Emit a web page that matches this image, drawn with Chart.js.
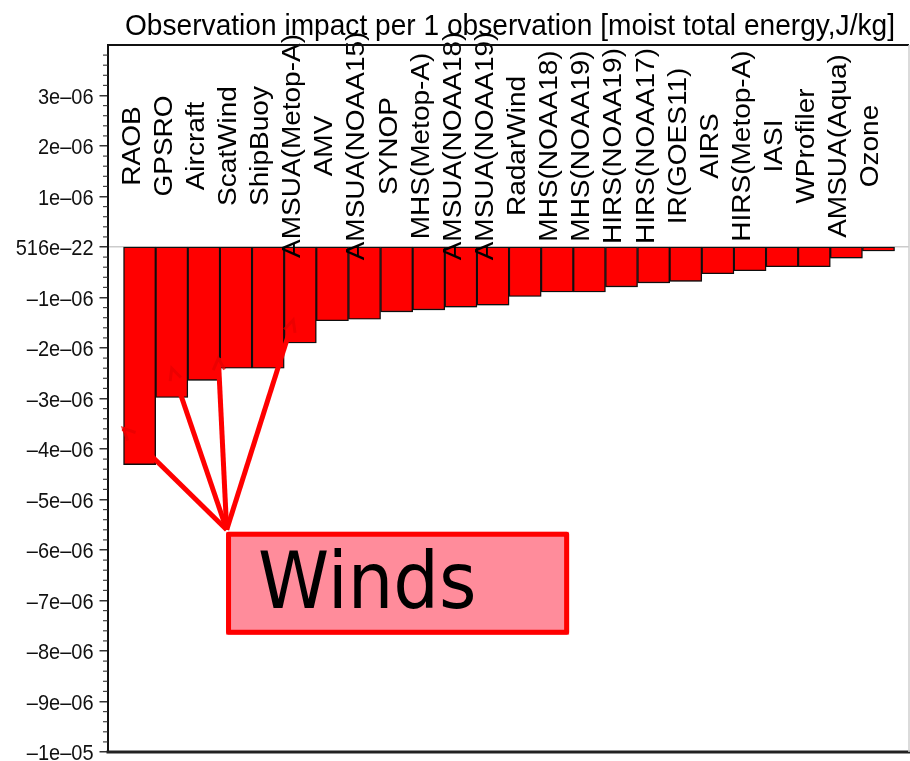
<!DOCTYPE html>
<html>
<head>
<meta charset="utf-8">
<script src="https://cdn.jsdelivr.net/npm/chart.js@4.4.1/dist/chart.umd.min.js"></script>
<style>
  html, body { margin: 0; padding: 0; background: #ffffff; }
  #wrap { width: 910px; height: 761px; position: relative; }
</style>
</head>
<body>
<div id="wrap"><canvas id="chart" width="910" height="761"></canvas></div>
<script>
// Observation types, ordered by impact
const categories = [
  'RAOB', 'GPSRO', 'Aircraft', 'ScatWind', 'ShipBuoy', 'AMSUA(Metop-A)', 'AMV',
  'AMSUA(NOAA15)', 'SYNOP', 'MHS(Metop-A)', 'AMSUA(NOAA18)', 'AMSUA(NOAA19)',
  'RadarWind', 'MHS(NOAA18)', 'MHS(NOAA19)', 'HIRS(NOAA19)', 'HIRS(NOAA17)',
  'IR(GOES11)', 'AIRS', 'HIRS(Metop-A)', 'IASI', 'WProfiler', 'AMSUA(Aqua)', 'Ozone'
];

// Impact per single observation (J/kg, moist total energy)
const impactPerObs = [
  -4.31e-6, -2.98e-6, -2.64e-6, -2.40e-6, -2.40e-6, -1.90e-6, -1.46e-6,
  -1.43e-6, -1.285e-6, -1.245e-6, -1.19e-6, -1.15e-6,
  -0.98e-6, -0.89e-6, -0.89e-6, -0.79e-6, -0.71e-6,
  -0.68e-6, -0.53e-6, -0.47e-6, -0.39e-6, -0.39e-6, -0.22e-6, -0.08e-6
];

// Y tick labels, bottom (-1e-05) to top (4e-06)
const yTickLabels = [
  '\u20131e\u201305', '\u20139e\u201306', '\u20138e\u201306', '\u20137e\u201306', '\u20136e\u201306',
  '\u20135e\u201306', '\u20134e\u201306', '\u20133e\u201306', '\u20132e\u201306', '\u20131e\u201306',
  '516e\u201322', '1e\u201306', '2e\u201306', '3e\u201306', ''
];

const titleText = 'Observation impact per 1 observation [moist total energy,J/kg]';
const calloutText = 'Winds';

// Callout geometry in data units (x: category position, y: impact value)
const callout = {
  hub: [3.71, -5.60e-6],
  targets: [[0.49, -3.59e-6], [2.0, -2.40e-6], [3.45, -2.20e-6], [5.78, -1.445e-6]],
  box: { x0: 3.69, y0: -5.64e-6, x1: 14.37, y1: -7.68e-6 }
};

const barPoints = impactPerObs.map((v, i) => ({ x: i + 1, y: v }));

const decorPlugin = {
  id: 'decor',
  beforeDatasetsDraw(chart) {
    const ctx = chart.ctx;
    ctx.save();
    ctx.shadowColor = 'rgba(0,0,0,0.28)';
    ctx.shadowBlur = 3;
    ctx.shadowOffsetY = 1;
  },
  afterDatasetsDraw(chart) {
    const ctx = chart.ctx;
    ctx.restore();
    const xs = chart.scales.x, ys = chart.scales.y, area = chart.chartArea;

    // minor ticks on the value axis
    ctx.save();
    ctx.strokeStyle = '#444';
    ctx.lineWidth = 1.2;
    for (let k = -50; k <= 20; k++) {
      if (k % 5 === 0) continue;
      const py = ys.getPixelForValue(k * 2e-7);
      ctx.beginPath();
      ctx.moveTo(area.left - 4.5, py);
      ctx.lineTo(area.left, py);
      ctx.stroke();
    }
    // value-axis labels
    ctx.fillStyle = '#111';
    ctx.font = '20px "Liberation Sans", Arial, sans-serif';
    ctx.textAlign = 'right';
    ctx.textBaseline = 'middle';
    ys.ticks.forEach((t, i) => {
      const py = ys.getPixelForValue(t.value);
      ctx.save();
      ctx.translate(area.left - 14, py + 2);
      ctx.scale(1, 1.12);
      ctx.fillText(yTickLabels[i] || '', 0, 0);
      ctx.restore();
    });
    ctx.restore();

    // rotated category names above the zero line
    ctx.save();
    ctx.fillStyle = '#000';
    ctx.font = '25px "Liberation Sans", Arial, sans-serif';
    ctx.textAlign = 'center';
    ctx.textBaseline = 'alphabetic';
    const yc = ys.getPixelForValue(2e-6);
    categories.forEach((name, i) => {
      const px = xs.getPixelForValue(i + 1);
      ctx.save();
      ctx.translate(px, yc);
      ctx.rotate(-Math.PI / 2);
      ctx.scale(1.12, 1);
      ctx.fillText(name, 0, 0);
      ctx.restore();
    });
    ctx.restore();

    // callout lines, arrow tips and label box
    const hx = xs.getPixelForValue(callout.hub[0]);
    const hy = ys.getPixelForValue(callout.hub[1]);
    ctx.save();
    ctx.strokeStyle = '#ff0000';
    ctx.lineWidth = 5;
    ctx.lineCap = 'butt';
    callout.targets.forEach(([tx, ty]) => {
      const px = xs.getPixelForValue(tx), py = ys.getPixelForValue(ty);
      ctx.beginPath();
      ctx.moveTo(hx, hy);
      ctx.lineTo(px, py);
      ctx.stroke();
      // open arrow tip
      const ang = Math.atan2(py - hy, px - hx);
      ctx.save();
      ctx.strokeStyle = 'rgba(230,0,0,0.75)';
      ctx.lineWidth = 3;
      ctx.beginPath();
      ctx.moveTo(px - 13 * Math.cos(ang - 0.45), py - 13 * Math.sin(ang - 0.45));
      ctx.lineTo(px, py);
      ctx.lineTo(px - 13 * Math.cos(ang + 0.45), py - 13 * Math.sin(ang + 0.45));
      ctx.stroke();
      ctx.restore();
    });
    const bx0 = xs.getPixelForValue(callout.box.x0), bx1 = xs.getPixelForValue(callout.box.x1);
    const by0 = ys.getPixelForValue(callout.box.y0), by1 = ys.getPixelForValue(callout.box.y1);
    ctx.fillStyle = '#ff8c9b';
    ctx.fillRect(bx0, by0, bx1 - bx0, by1 - by0);
    ctx.lineWidth = 5;
    ctx.strokeStyle = '#ff0000';
    ctx.lineJoin = 'round';
    ctx.strokeRect(bx0 + 2.5, by0 + 2.5, bx1 - bx0 - 5, by1 - by0 - 5);
    ctx.fillStyle = '#000';
    ctx.font = '72px "DejaVu Sans", sans-serif';
    ctx.textAlign = 'left';
    ctx.textBaseline = 'alphabetic';
    ctx.save();
    ctx.translate(bx0 + 32, by0 + 76);
    ctx.scale(1, 1.1);
    ctx.fillText(calloutText, 0, 0);
    ctx.restore();
    ctx.restore();
  },
  afterDraw(chart) {
    const ctx = chart.ctx, area = chart.chartArea;
    ctx.save();
    // frame
    ctx.strokeStyle = '#111';
    ctx.lineWidth = 2;
    ctx.beginPath();
    ctx.moveTo(area.left, area.top);
    ctx.lineTo(area.right, area.top);
    ctx.stroke();
    ctx.lineWidth = 3;
    ctx.strokeStyle = '#222';
    ctx.beginPath();
    ctx.moveTo(area.left - 1, area.bottom);
    ctx.lineTo(chart.width, area.bottom);
    ctx.stroke();
    ctx.strokeStyle = '#cfcfcf';
    ctx.lineWidth = 1.5;
    ctx.beginPath();
    ctx.moveTo(area.right, area.top);
    ctx.lineTo(area.right, area.bottom);
    ctx.stroke();

    // title
    ctx.fillStyle = '#000';
    ctx.font = '27px "Liberation Sans", Arial, sans-serif';
    ctx.textAlign = 'center';
    ctx.textBaseline = 'alphabetic';
    const w = ctx.measureText(titleText).width;
    ctx.translate(510, 35);
    ctx.scale(770 / w, 1.12);
    ctx.fillText(titleText, 0, 0);
    ctx.restore();
  }
};

new Chart(document.getElementById('chart'), {
  type: 'bar',
  data: {
    datasets: [{
      data: barPoints,
      backgroundColor: '#ff0000',
      borderColor: '#111111',
      borderWidth: 1.4,
      borderSkipped: false,
      barPercentage: 1.0,
      categoryPercentage: 1.0
    }]
  },
  options: {
    responsive: false,
    animation: false,
    events: [],
    layout: { padding: { top: 45, right: 1, bottom: 9, left: 0 } },
    plugins: { legend: { display: false }, tooltip: { enabled: false }, title: { display: false } },
    scales: {
      x: {
        type: 'linear',
        display: false,
        min: 0,
        max: 24.95,
        offset: false
      },
      y: {
        type: 'linear',
        min: -1e-5,
        max: 4e-6,
        afterFit(scale) { scale.width = 107.5; },
        border: { display: true, color: '#111', width: 2 },
        grid: {
          drawOnChartArea: true,
          drawTicks: true,
          tickLength: 8,
          tickWidth: 1.5,
          lineWidth: 1.5,
          color: (c) => (c.tick && Math.abs(c.tick.value) < 1e-12) ? '#cccccc' : 'rgba(0,0,0,0)',
          tickColor: (c) => (c.tick && c.tick.value > 3.5e-6) ? 'rgba(0,0,0,0)' : '#333'
        },
        ticks: {
          display: false,
          stepSize: 1e-6,
          autoSkip: false
        }
      }
    }
  },
  plugins: [decorPlugin]
});
</script>
</body>
</html>
